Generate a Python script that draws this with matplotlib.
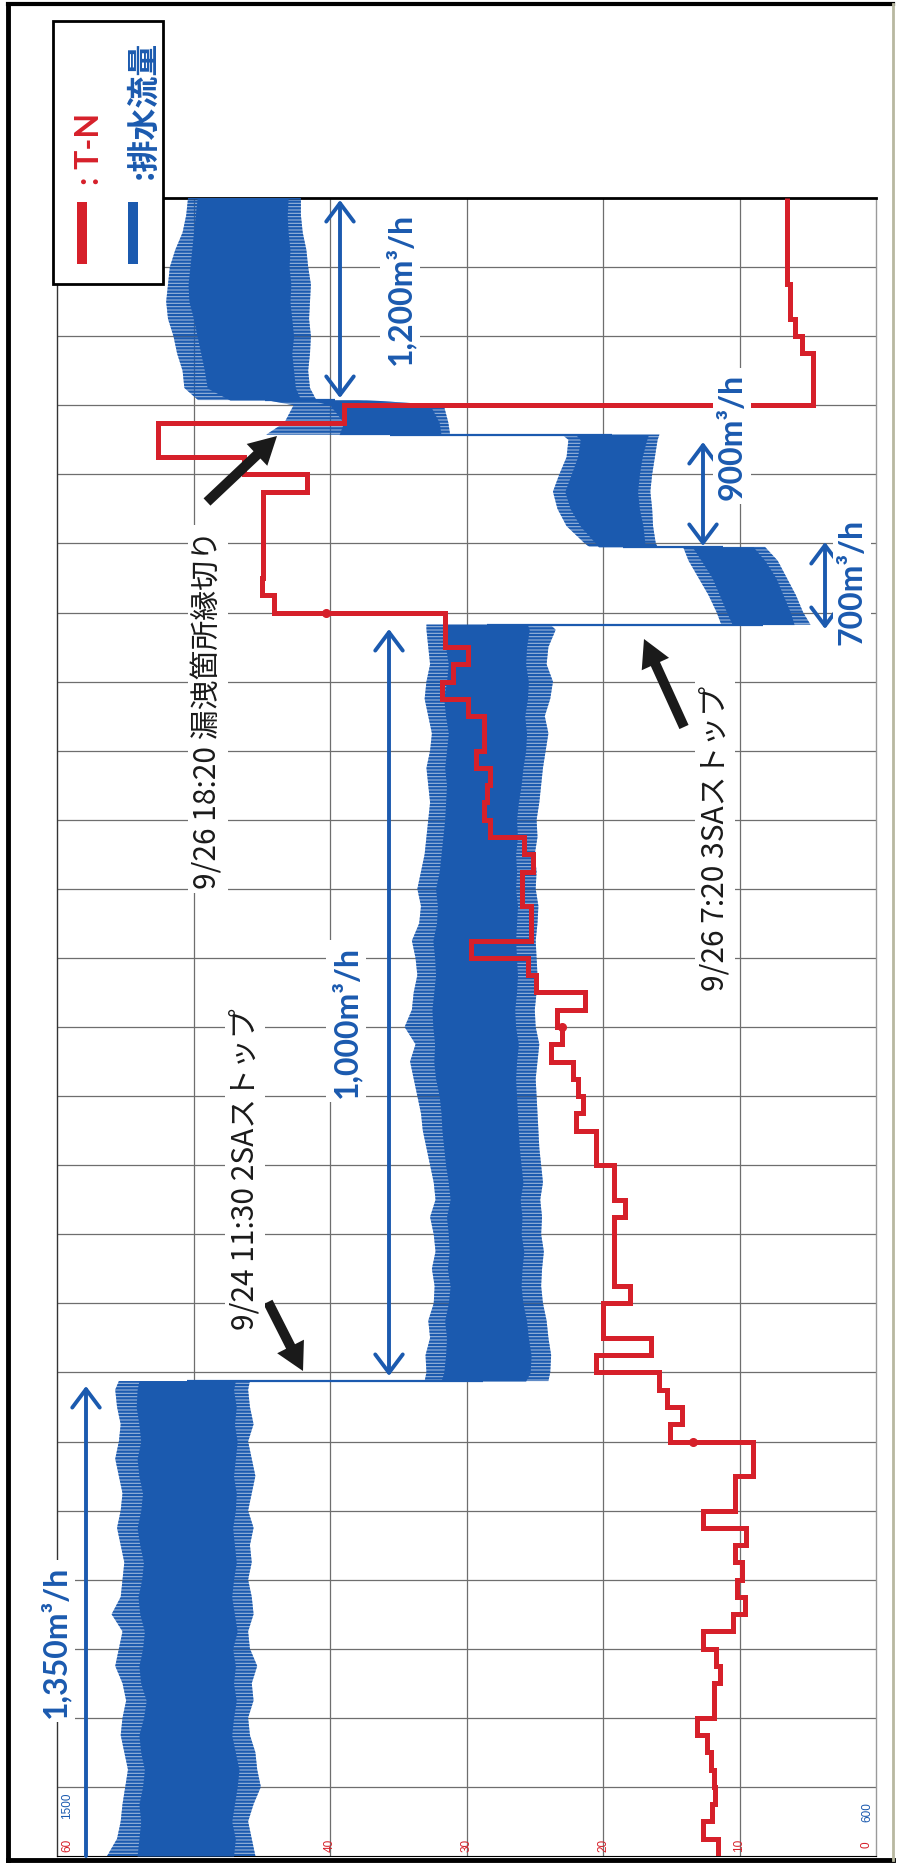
import matplotlib
matplotlib.use("Agg")
import matplotlib.pyplot as plt
import numpy as np
from matplotlib.patches import Rectangle, FancyArrowPatch
from matplotlib.lines import Line2D
from matplotlib.transforms import blended_transform_factory, offset_copy

# ---------------- data ----------------
# time axis: hours from 9/23 8:00, grid every 4 h
t_min, t_max = 0, 96
grid_hours = list(range(4, 96, 4))
tn_grid = [50, 40, 30, 20, 10]
tn_ticks = [60, 40, 30, 20, 10, 0]
flow_ticks = [1500, 600]

# T-N (hourly readings, value held for the hour)
tn_values = [11.6, 12.7, 12.0, 11.8, 11.9, 12.1, 12.4, 13.1, 11.9, 11.9,
             11.4, 11.7, 12.7, 10.5, 9.6, 10.2, 9.8, 10.3, 9.5, 12.7,
             10.3, 10.3, 9.0, 9.0, 15.1, 14.2, 15.3, 15.9, 20.5, 16.5,
             20.0, 20.0, 18.0, 19.2, 19.2, 19.2, 19.2, 18.4, 19.2, 19.2,
             20.5, 20.5, 22.0, 21.5, 21.8, 22.2, 23.8, 23.0, 23.4, 21.3,
             24.9, 25.5, 29.7, 25.3, 25.3, 25.9, 25.9, 25.1, 25.8, 28.3,
             28.7, 28.5, 28.3, 29.3, 28.7, 28.7, 29.9, 31.8, 31.0, 29.9,
             31.6, 31.6, 44.1, 45.0, 44.9, 44.9, 44.9, 44.9, 44.9, 41.7,
             46.3, 52.6, 52.6, 39.0, 4.6, 4.6, 4.6, 5.4, 5.9, 6.3,
             6.3, 6.5, 6.5, 6.5, 6.5, 6.5]
tn_marker_t = [24, 48, 72]
tn_marker_v = [13.4, 23.0, 40.3]

# 排水流量 (m3/h): readings per segment (segment starts repeat the previous end time)
flow_t = ([float(h) for h in range(0, 28)] + [27.5]
          + [27.5] + [float(h) for h in range(28, 72)] + [71.3]
          + [71.3, 72, 73, 74, 75, 75.8]
          + [75.8, 76, 77, 78, 79, 80, 81, 82, 82.3]
          + [82.3, 83, 84, 84.3]
          + [84.3] + [float(h) for h in range(85, 97)])

flow_core_hi = ([1412, 1410, 1408, 1410, 1406, 1404, 1408, 1410, 1405, 1402,
                 1408, 1410, 1406, 1404, 1409, 1411, 1407, 1405, 1409, 1412,
                 1408, 1406, 1410, 1412, 1408, 1410, 1413, 1412, 1410]
                + [1078, 1075, 1073, 1072, 1074, 1070, 1068, 1071, 1069, 1070,
                   1072, 1068, 1070, 1073, 1075, 1077, 1078, 1080, 1084, 1086,
                   1085, 1087, 1088, 1086, 1084, 1085, 1087, 1083, 1082, 1084,
                   1080, 1078, 1076, 1074, 1073, 1072, 1074, 1072, 1070, 1073,
                   1075, 1072, 1070, 1073, 1074, 1072]
                + [758, 764, 772, 780, 792, 802]
                + [905, 908, 925, 936, 942, 935, 928, 925, 930]
                + [1190, 1185, 1200, 1220]
                + [1310, 1335, 1338, 1342, 1346, 1350, 1355, 1356, 1354, 1352, 1350, 1348, 1346])

flow_core_lo = ([1306, 1304, 1308, 1305, 1302, 1300, 1304, 1308, 1306, 1303,
                 1306, 1304, 1307, 1302, 1305, 1308, 1306, 1303, 1305, 1307,
                 1304, 1303, 1306, 1304, 1302, 1305, 1303, 1306, 1304]
                + [985, 980, 979, 982, 984, 988, 990, 989, 987, 990,
                   989, 991, 988, 990, 992, 993, 994, 995, 996, 995,
                   993, 996, 997, 995, 994, 995, 996, 995, 994, 996,
                   995, 996, 994, 995, 993, 990, 988, 985, 984, 986,
                   983, 982, 985, 984, 981, 983]
                + [690, 694, 702, 710, 722, 735]
                + [852, 854, 856, 860, 862, 860, 857, 852, 850]
                + [1078, 1080, 1090, 1170]
                + [1232, 1238, 1240, 1242, 1240, 1242, 1244, 1243, 1245, 1244, 1246, 1247, 1246])

flow_spike_hi = ([1445, 1434, 1430, 1428, 1425, 1422, 1426, 1430, 1428, 1424,
                  1428, 1436, 1432, 1428, 1440, 1430, 1428, 1426, 1430, 1434,
                  1430, 1428, 1432, 1436, 1432, 1430, 1434, 1436, 1432]
                 + [1096, 1094, 1095, 1090, 1092, 1086, 1085, 1088, 1084, 1086,
                    1090, 1084, 1086, 1090, 1094, 1098, 1100, 1104, 1108, 1112,
                    1106, 1118, 1110, 1108, 1104, 1106, 1110, 1102, 1100, 1104,
                    1100, 1096, 1094, 1092, 1090, 1092, 1094, 1090, 1088, 1092,
                    1096, 1094, 1090, 1092, 1094, 1094]
                 + [770, 775, 784, 795, 806, 812]
                 + [915, 920, 940, 950, 955, 948, 940, 938, 945]
                 + [1270, 1250, 1240, 1270]
                 + [1345, 1360, 1362, 1368, 1372, 1378, 1380, 1378, 1376, 1370, 1362, 1358, 1356])

flow_spike_lo = ([1282, 1286, 1290, 1284, 1276, 1280, 1282, 1288, 1290, 1284,
                  1286, 1280, 1288, 1290, 1284, 1286, 1290, 1286, 1288, 1284,
                  1290, 1286, 1282, 1286, 1290, 1284, 1288, 1290, 1288]
                 + [960, 958, 957, 960, 962, 966, 968, 967, 965, 968,
                    967, 969, 966, 968, 970, 971, 972, 973, 974, 972,
                    970, 974, 975, 973, 972, 973, 974, 972, 971, 974,
                    973, 975, 972, 973, 970, 968, 966, 963, 960, 964,
                    958, 955, 962, 960, 952, 958]
                 + [672, 680, 688, 698, 708, 722]
                 + [840, 842, 845, 846, 848, 846, 843, 840, 838]
                 + [1068, 1070, 1075, 1160]
                 + [1215, 1222, 1224, 1222, 1221, 1223, 1222, 1221, 1224, 1226, 1230, 1232, 1232])

assert len(flow_t) == len(flow_core_hi) == len(flow_core_lo) == len(flow_spike_hi) == len(flow_spike_lo)
assert len(tn_values) == 96

# ---------------- style ----------------
W, H, DPI = 897, 1865, 100
RED = "#d6202a"
BLUE = "#1b5aaf"
GRID = "#6e6e6e"
PX_L, PX_R, PX_T, PX_B = 57, 876, 199, 1857
plt.rcParams["hatch.linewidth"] = 1.6

fig = plt.figure(figsize=(W / DPI, H / DPI), dpi=DPI)
fig.patch.set_facecolor("white")


def P(x, y):
    return (x / W, 1 - y / H)


rect = [PX_L / W, 1 - PX_B / H, (PX_R - PX_L) / W, (PX_B - PX_T) / H]
ax = fig.add_axes(rect)
ax.set_xlim(60, 0)
ax.set_ylim(t_min, t_max)
ax.set_xticks([])
ax.set_yticks([])
ax.hlines(grid_hours, 60, 0, color=GRID, lw=0.9, zorder=1)
ax.vlines(tn_grid, t_min, t_max, color=GRID, lw=0.9, zorder=1)
ax.spines["top"].set_color("black")
ax.spines["top"].set_linewidth(2.0)
ax.spines["left"].set_color("#333333")
ax.spines["left"].set_linewidth(1.0)
ax.spines["right"].set_color("#9a9a9a")
ax.spines["right"].set_linewidth(1.0)
ax.spines["bottom"].set_color("black")

# flow axis (secondary, 1500 at left, 600 at right)
axf = ax.twiny()
axf.set_xlim(1500, 600)
axf.set_ylim(t_min, t_max)
axf.set_xticks([])
axf.patch.set_visible(False)
for s in axf.spines.values():
    s.set_visible(False)

# split segments
segs = []
start = 0
for i in range(1, len(flow_t)):
    if flow_t[i] == flow_t[i - 1]:
        segs.append((start, i))
        start = i
segs.append((start, len(flow_t)))

for a, b in segs:
    tt = flow_t[a:b]
    axf.fill_betweenx(tt, flow_spike_lo[a:b], flow_spike_hi[a:b], facecolor=(0.106, 0.353, 0.686, 0.45),
                      edgecolor=BLUE, hatch="-----", lw=0)
    axf.fill_betweenx(tt, flow_core_lo[a:b], flow_core_hi[a:b], color=BLUE, lw=0)

for k in range(len(segs) - 1):
    a1, b1 = segs[k]
    a2, b2 = segs[k + 1]
    tb = flow_t[b1 - 1]
    m1 = (flow_core_lo[b1 - 1] + flow_core_hi[b1 - 1]) / 2
    m2 = (flow_core_lo[a2] + flow_core_hi[a2]) / 2
    axf.plot([m1, m2], [tb, tb], color=BLUE, lw=1.6, solid_capstyle="butt")

# T-N axis on top
axt = ax.twiny()
axt.set_xlim(60, 0)
axt.set_ylim(t_min, t_max)
axt.set_xticks([])
axt.patch.set_visible(False)
for s in axt.spines.values():
    s.set_visible(False)
axt.stairs(tn_values, edges=np.arange(len(tn_values) + 1), orientation="horizontal",
           baseline=None, color=RED, lw=3.6)
axt.plot(tn_marker_v, tn_marker_t, "o", ms=5.5, color=RED)

# tick labels (inside bottom of plot)
tr_tn = blended_transform_factory(axt.transData, ax.transAxes)
for v in tn_ticks:
    dx = 0
    if v == 60:
        dx = 10
    if v == 0:
        dx = -9
    axt.text(v, 0.0072, str(v), transform=offset_copy(tr_tn, fig=fig, x=dx, y=0, units="dots"),
             rotation=90, ha="center", va="center", color=RED, fontsize=8.5,
             family=["Liberation Sans", "DejaVu Sans"], zorder=5)
tr_fl = blended_transform_factory(axf.transData, ax.transAxes)
for v, yy in zip(flow_ticks, [0.031, 0.027]):
    dx = 10 if v == flow_ticks[0] else -9
    axf.text(v, yy, str(v), transform=offset_copy(tr_fl, fig=fig, x=dx, y=0, units="dots"),
             rotation=90, ha="center", va="center", color=BLUE, fontsize=8.5,
             family=["Liberation Sans", "DejaVu Sans"], zorder=5)

# ---------------- annotations ----------------
BOX = dict(boxstyle="square,pad=0.15", fc="white", ec="none")
JP = ["Noto Sans CJK JP", "DejaVu Sans"]
LAT = ["Lato", "DejaVu Sans"]


def blue_arrow(x, y1, y2, both=True):
    style = "<->,head_length=0.6,head_width=0.45" if both else "->,head_length=0.6,head_width=0.45"
    a = FancyArrowPatch(P(x, y1), P(x, y2), arrowstyle=style, mutation_scale=22,
                        color=BLUE, lw=2.8, shrinkA=0, shrinkB=0,
                        transform=fig.transFigure, zorder=6)
    fig.add_artist(a)


def black_arrow(x1, y1, x2, y2):
    a = FancyArrowPatch(P(x1, y1), P(x2, y2),
                        arrowstyle="simple,head_length=1.1,head_width=1.2,tail_width=0.4",
                        mutation_scale=18, color="#1a1a1a", lw=0,
                        shrinkA=0, shrinkB=0, transform=fig.transFigure, zorder=7)
    fig.add_artist(a)


blue_arrow(86, 1857, 1387, both=False)
blue_arrow(389, 630, 1377)
blue_arrow(340, 201, 399)
blue_arrow(703, 443, 547)
blue_arrow(825, 543, 630)

for txt, (x, y) in [("1,350m³/h", (55, 1642)), ("1,000m³/h", (346, 1022)),
                    ("1,200m³/h", (400, 289)), ("900m³/h", (732, 437)),
                    ("700m³/h", (852, 582))]:
    fig.text(*P(x, y), txt, rotation=90, ha="center", va="center", color=BLUE,
             fontsize=23, fontweight="bold", family=LAT, bbox=BOX, zorder=8)

for txt, (x, y) in [("9/24 11:30 2SAストップ", (245, 1169)),
                    ("9/26 18:20 漏洩箇所縁切り", (208, 710)),
                    ("9/26 7:20 3SAストップ", (715, 838))]:
    fig.text(*P(x, y), txt, rotation=90, ha="center", va="center", color="#1a1a1a",
             fontsize=21.5, family=JP, bbox=BOX, zorder=8)

black_arrow(268, 1303, 303, 1372)
black_arrow(207, 503, 277, 437)
black_arrow(684, 728, 644, 640)

# legend
lx0, ly0, lx1, ly1 = 53, 22, 163, 285
fig.add_artist(Rectangle(P(lx0, ly1), (lx1 - lx0) / W, (ly1 - ly0) / H, transform=fig.transFigure,
                         fc="white", ec="black", lw=2.0, zorder=9))
fig.add_artist(Rectangle(P(77, 265), 10 / W, 62 / H, transform=fig.transFigure,
                         fc=RED, ec="none", zorder=10))
fig.add_artist(Rectangle(P(128, 265), 10 / W, 62 / H, transform=fig.transFigure,
                         fc=BLUE, ec="none", zorder=10))
fig.text(*P(89, 149), ": T-N", rotation=90, ha="center", va="center", color=RED,
         fontsize=23, fontweight="bold", family=LAT, zorder=11)
fig.text(*P(143, 110), ":排水流量", rotation=90, ha="center", va="center", color=BLUE,
         fontsize=23, fontweight="bold", family=JP, zorder=11)

# outer frame
for (x1, y1, x2, y2, c, lw) in [(8, 5, 893, 5, "black", 3), (8, 5, 8, 1861, "black", 3.5),
                                 (8, 1861, 893, 1861, "black", 3.5), (893, 5, 893, 1861, "#b8b8a0", 2)]:
    fig.add_artist(Line2D([x1 / W, x2 / W], [1 - y1 / H, 1 - y2 / H], transform=fig.transFigure,
                          color=c, lw=lw, zorder=12))

fig.savefig("out.png", dpi=DPI)
